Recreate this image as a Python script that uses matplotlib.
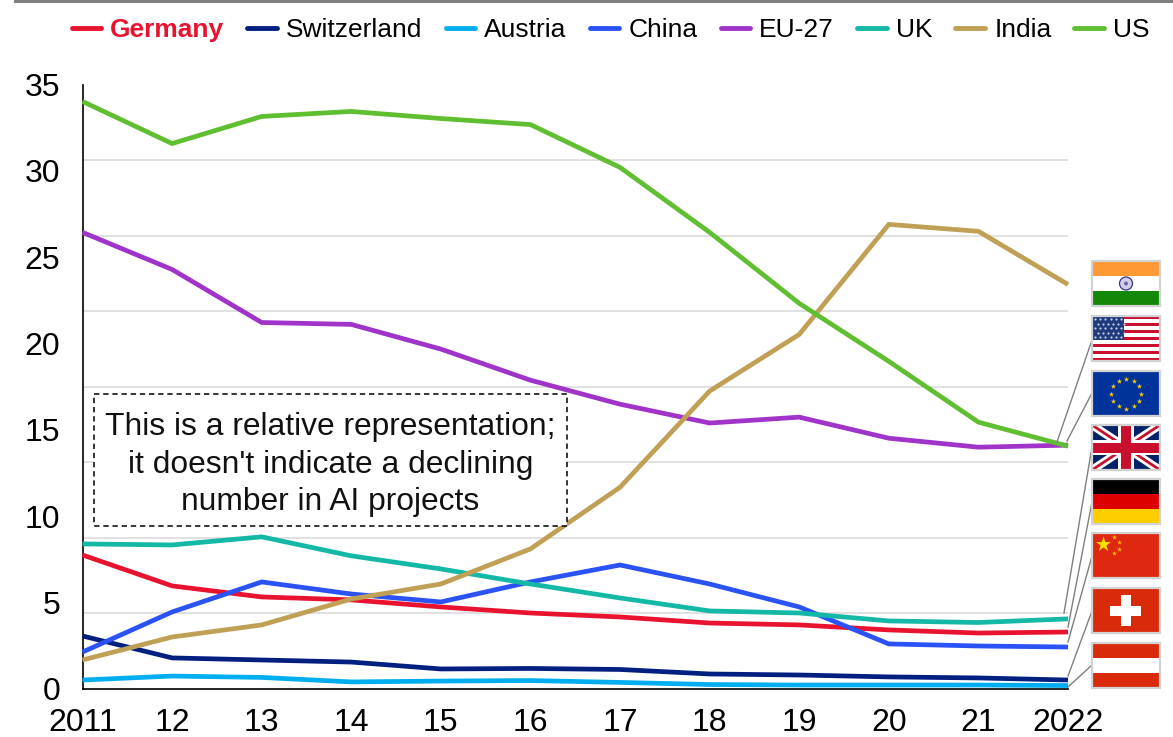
import numpy as np
import matplotlib
matplotlib.use('Agg')
from matplotlib import pyplot as plt
from matplotlib.patches import Rectangle, Circle
from matplotlib.lines import Line2D

plt.rcParams['font.family'] = ['Liberation Sans', 'DejaVu Sans']

# data
years       = [2011, 2012, 2013, 2014, 2015, 2016, 2017, 2018, 2019, 2020, 2021, 2022]
year_labels = ['2011', '12', '13', '14', '15', '16', '17', '18', '19', '20', '21', '2022']

germany     = [7.76, 5.97, 5.33, 5.16, 4.75, 4.40, 4.17, 3.82, 3.71, 3.42, 3.24, 3.30]
switzerland = [3.07, 1.80, 1.68, 1.56, 1.16, 1.19, 1.13, 0.87, 0.81, 0.70, 0.64, 0.52]
austria     = [0.52, 0.75, 0.67, 0.41, 0.46, 0.49, 0.38, 0.26, 0.23, 0.23, 0.23, 0.20]
china       = [2.14, 4.46, 6.20, 5.50, 5.04, 6.20, 7.18, 6.08, 4.75, 2.61, 2.49, 2.43]
eu27        = [26.44, 24.29, 21.22, 21.11, 19.68, 17.88, 16.49, 15.40, 15.74, 14.52, 14.00, 14.12]
uk          = [8.40, 8.34, 8.81, 7.71, 6.95, 6.08, 5.27, 4.52, 4.40, 3.94, 3.85, 4.06]
india       = [1.68, 3.01, 3.71, 5.21, 6.08, 8.11, 11.68, 17.25, 20.53, 26.90, 26.50, 23.42]
us          = [34.02, 31.58, 33.15, 33.44, 33.03, 32.68, 30.20, 26.44, 22.33, 18.97, 15.45, 14.06]

names  = ['Germany', 'Switzerland', 'Austria', 'China', 'EU-27', 'UK', 'India', 'US']
series = [germany, switzerland, austria, china, eu27, uk, india, us]
colors = ['#E8132F', '#002080', '#00AEEF', '#2A52F5', '#A033C8', '#14B8A6', '#BFA055', '#5FBF30']

y_ticks   = [0, 5, 10, 15, 20, 25, 30, 35]
# gridlines do not sit on the labels in the original
grid_vals = [4.375, 8.75, 13.125, 17.5, 21.875, 26.25, 30.625, 35]

W, H = 1173, 737
fig = plt.figure(figsize=(W / 100, H / 100), dpi=100)

ax = fig.add_axes([82.5 / W, 1 - 689 / H, (1068 - 82.5) / W, (689 - 84.5) / H])
for name, vals, col in zip(names, series, colors):
    ax.plot(years, vals, color=col, lw=3.4, label=name, clip_on=False,
            solid_joinstyle='miter', solid_capstyle='butt', zorder=3)

ax.set_xlim(2011, 2022)
ax.set_ylim(0, 35)
ax.set_xticks(years)
ax.set_xticklabels(year_labels)
ax.set_yticks(y_ticks)
ax.set_yticks(grid_vals, minor=True)
ax.grid(which='minor', axis='y', color='#D9D9D9', lw=1.1, zorder=0)
ax.tick_params(which='both', length=0)
ax.tick_params(axis='x', labelsize=23, pad=13.5)
ax.tick_params(axis='y', labelsize=23, pad=16)
ax.set_axisbelow(True)
for s in ['top', 'right']:
    ax.spines[s].set_visible(False)
for s in ['left', 'bottom']:
    ax.spines[s].set_linewidth(1.2)

leg = ax.legend(loc='center left', bbox_to_anchor=(71.5 / W, 1 - 30 / H),
                bbox_transform=fig.transFigure, ncol=8, frameon=False,
                fontsize=19, handlelength=1.12, handletextpad=0.35,
                columnspacing=0.87, borderpad=0, borderaxespad=0)
for h in leg.get_lines():
    h.set_linewidth(3.5)
    h.set_solid_capstyle('round')
leg.get_texts()[0].set_color(colors[0])
leg.get_texts()[0].set_fontweight('bold')

# overlay in pixel coordinates, for note box and flags
ov = fig.add_axes([0, 0, 1, 1], zorder=5)
ov.set_xlim(0, W)
ov.set_ylim(H, 0)
ov.axis('off')
ov.patch.set_alpha(0)

ov.plot([15, W], [1, 1], color='#808080', lw=2.2)

ov.add_patch(Rectangle((94, 394), 473, 132, fc='white', ec='black', lw=1.1, ls=(0, (3.5, 2.5)), zorder=2))
ov.text(330.5, 464.5, "This is a relative representation;\nit doesn't indicate a declining\nnumber in AI projects",
        ha='center', va='center', fontsize=22.9, linespacing=1.32, color='#111111', zorder=3)

# leader lines, flag to line end
leaders = [((1092, 340), (1057, 442)), ((1092, 393), (1067, 441)),
           ((1092, 447), (1064, 613)), ((1092, 502), (1068, 627)),
           ((1092, 556), (1068, 642)), ((1092, 611), (1068, 676)),
           ((1092, 665), (1068, 687))]
for a, b in leaders:
    ov.plot([a[0], b[0]], [a[1], b[1]], color='#7F7F7F', lw=1.0, zorder=2)


FX, FW, FH = 1092, 68, 45


def frame(y):
    r = Rectangle((FX, y), FW, FH, fc='none', ec='#D2D2D2', lw=1.6, zorder=8)
    ov.add_patch(r)


def band(y, y0, y1, col, x0=0, x1=FW):
    ov.add_patch(Rectangle((FX + x0, y + y0), x1 - x0, y1 - y0, fc=col, ec='none', zorder=5))


def flag_india(y):
    band(y, 0, 15, '#FF9933')
    band(y, 15, 30, 'white')
    band(y, 30, 45, '#138808')
    ov.add_patch(Circle((FX + 34, y + 22.5), 6.5, fc='#D0D0EA', ec='#34348C', lw=0.9, zorder=6))
    ov.add_patch(Circle((FX + 34, y + 22.5), 2, fc='#6A6AB0', ec='none', zorder=6))


def flag_us(y):
    for i in range(13):
        band(y, i * FH / 13, (i + 1) * FH / 13, '#C8102E' if i % 2 == 0 else 'white')
    band(y, 0, 7 * FH / 13, '#1F3A7D', 0, 32)
    sx, sy = [], []
    for r in range(5):
        for c in range(6):
            sx.append(FX + 3 + c * 5.2 + (r % 2) * 2.6)
            sy.append(y + 3 + r * 4.5)
    ov.scatter(sx, sy, s=2.5, c='#C8D0E4', linewidths=0, zorder=6)


def flag_eu(y):
    band(y, 0, FH, '#003399')
    a = np.arange(12) * np.pi / 6
    ov.scatter(FX + 34 + 15 * np.cos(a), y + 22.5 + 15 * np.sin(a), s=16, marker='*',
               c='#FFCC00', linewidths=0, zorder=6)


def flag_uk(y):
    band(y, 0, FH, '#012169')
    clip = Rectangle((FX, y), FW, FH, transform=ov.transData)
    x0, x1, y0, y1 = FX, FX + FW, y, y + FH
    for pts, col, lw in [((x0, y0, x1, y1), 'white', 6), ((x0, y1, x1, y0), 'white', 6),
                         ((x0, y0, x1, y1), '#C8102E', 2.0), ((x0, y1, x1, y0), '#C8102E', 2.0)]:
        l = Line2D([pts[0], pts[2]], [pts[1], pts[3]], color=col, lw=lw, solid_capstyle='butt', zorder=5)
        ov.add_line(l)
        l.set_clip_path(clip)
    band(y, 15, 30, 'white')
    band(y, 0, FH, 'white', 26, 42)
    band(y, 17.5, 27.5, '#C8102E')
    band(y, 0, FH, '#C8102E', 29, 39)


def flag_germany(y):
    band(y, 0, 15, 'black')
    band(y, 15, 30, '#DD0000')
    band(y, 30, 45, '#FFCE00')


def flag_china(y):
    band(y, 0, FH, '#DE2910')
    ov.scatter([FX + 11], [y + 11], s=130, marker='*', c='#FFDE00', linewidths=0, zorder=6)
    ov.scatter([FX + 22, FX + 27, FX + 27, FX + 22], [y + 4, y + 9, y + 16, y + 20], s=14,
               marker='*', c='#FFBE00', linewidths=0, zorder=6)


def flag_swiss(y):
    band(y, 0, FH, '#DA2A0C')
    band(y, 7, 38, 'white', 28.5, 38.5)
    band(y, 17.5, 27.5, 'white', 18, 49)


def flag_austria(y):
    band(y, 0, 15, '#DA2A0C')
    band(y, 15, 30, 'white')
    band(y, 30, 45, '#DA2A0C')


flags = [(flag_india, 261), (flag_us, 316), (flag_eu, 371), (flag_uk, 425),
         (flag_germany, 479), (flag_china, 533), (flag_swiss, 588), (flag_austria, 643)]
for fn, fy in flags:
    fn(fy)
    frame(fy)

fig.savefig('out.png', dpi=100)
